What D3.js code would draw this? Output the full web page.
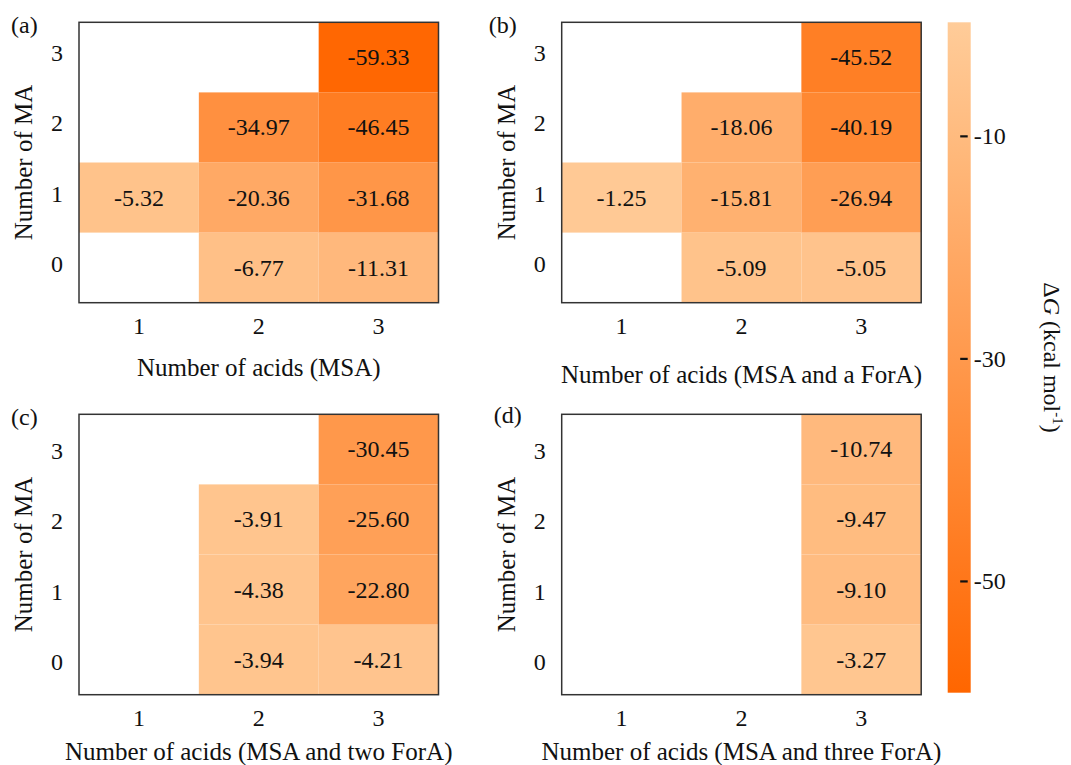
<!DOCTYPE html>
<html>
<head>
<meta charset="utf-8">
<script src="https://cdn.jsdelivr.net/npm/d3@7"></script>
<style>
  html, body { margin: 0; padding: 0; background: #fff; }
  svg text { font-family: "Liberation Serif", "Times New Roman", serif; fill: #111; }
</style>
</head>
<body>
<svg id="chart" width="1071" height="765"></svg>
<script>
// Acid counts (columns) and MA counts (rows)
const acidCounts = [1, 2, 3];
const maCounts = [0, 1, 2, 3];

// Gibbs free energies (kcal/mol); rows ordered MA = 0,1,2,3, columns acids = 1,2,3
const dG_MSA = [
  [null, -6.77, -11.31],
  [-5.32, -20.36, -31.68],
  [null, -34.97, -46.45],
  [null, null, -59.33]
];
const dG_MSA_oneForA = [
  [null, -5.09, -5.05],
  [-1.25, -15.81, -26.94],
  [null, -18.06, -40.19],
  [null, null, -45.52]
];
const dG_MSA_twoForA = [
  [null, -3.94, -4.21],
  [null, -4.38, -22.80],
  [null, -3.91, -25.60],
  [null, null, -30.45]
];
const dG_MSA_threeForA = [
  [null, null, -3.27],
  [null, null, -9.10],
  [null, null, -9.47],
  [null, null, -10.74]
];

const panelTags = ["(a)", "(b)", "(c)", "(d)"];
const xTitles = [
  "Number of acids (MSA)",
  "Number of acids (MSA and a ForA)",
  "Number of acids (MSA and two ForA)",
  "Number of acids (MSA and three ForA)"
];
const yTitle = "Number of MA";
const colorbarTicks = [-10, -30, -50];
const colorbarDomain = [-60, 0.25];

const panelData = [dG_MSA, dG_MSA_oneForA, dG_MSA_twoForA, dG_MSA_threeForA];

// ---- layout ----
const svg = d3.select("#chart");
const panelW = 359.5, panelH = 280.4;
const panelOrigins = [[79, 22.3], [561.7, 22.3], [79, 414.3], [561.7, 414.3]];
const xTitleOffsets = [73, 80, 65.5, 65.5];
const tagOffsets = [[-68, 11], [-73, 11], [-68, 11], [-68, 9]];

const color = d3.scaleLinear()
  .domain(colorbarDomain)
  .range(["#ff6600", "#ffcc99"])
  .interpolate(d3.interpolateRgb);

panelData.forEach((grid, p) => {
  const [ox, oy] = panelOrigins[p];
  const g = svg.append("g").attr("transform", `translate(${ox},${oy})`);

  const x = d3.scaleBand().domain(acidCounts).range([0, panelW]).padding(0);
  const y = d3.scaleBand().domain(maCounts.slice().reverse()).range([0, panelH]).padding(0);

  const cells = [];
  grid.forEach((row, ri) => row.forEach((v, ci) => {
    if (v !== null) cells.push({ ma: maCounts[ri], acid: acidCounts[ci], v });
  }));

  g.selectAll("rect.cell").data(cells).join("rect")
    .attr("class", "cell")
    .attr("x", d => x(d.acid))
    .attr("y", d => y(d.ma))
    .attr("width", x.bandwidth())
    .attr("height", y.bandwidth())
    .attr("fill", d => color(d.v));

  g.selectAll("text.val").data(cells).join("text")
    .attr("class", "val")
    .attr("x", d => x(d.acid) + x.bandwidth() / 2)
    .attr("y", d => y(d.ma) + y.bandwidth() / 2)
    .attr("text-anchor", "middle")
    .attr("dominant-baseline", "central")
    .attr("font-size", 24)
    .text(d => d.v.toFixed(2));

  // frame
  g.append("rect")
    .attr("width", panelW).attr("height", panelH)
    .attr("fill", "none").attr("stroke", "#333").attr("stroke-width", 1.5);

  // x tick labels
  g.selectAll("text.xt").data(acidCounts).join("text")
    .attr("class", "xt")
    .attr("x", d => x(d) + x.bandwidth() / 2)
    .attr("y", panelH + 31)
    .attr("text-anchor", "middle")
    .attr("font-size", 24)
    .text(d => d);

  // y tick labels
  g.selectAll("text.yt").data(maCounts).join("text")
    .attr("class", "yt")
    .attr("x", -22)
    .attr("y", d => y(d) + y.bandwidth() / 2 - (p < 2 ? 4 : -2))
    .attr("text-anchor", "middle")
    .attr("dominant-baseline", "central")
    .attr("font-size", 24)
    .text(d => d);

  // axis titles
  g.append("text")
    .attr("x", panelW / 2)
    .attr("y", panelH + xTitleOffsets[p])
    .attr("text-anchor", "middle")
    .attr("font-size", 25)
    .text(xTitles[p]);

  g.append("text")
    .attr("transform", `translate(-47,${panelH / 2}) rotate(-90)`)
    .attr("text-anchor", "middle")
    .attr("font-size", 25)
    .text(yTitle);

  // panel tag
  g.append("text")
    .attr("x", tagOffsets[p][0])
    .attr("y", tagOffsets[p][1])
    .attr("font-size", 24)
    .text(panelTags[p]);
});

// ---- colorbar ----
const cbX = 947.7, cbW = 23, cbTop = 22.3, cbBottom = 692.7;
const cbScale = d3.scaleLinear().domain([colorbarDomain[1], colorbarDomain[0]]).range([cbTop, cbBottom]);

const defs = svg.append("defs");
const grad = defs.append("linearGradient")
  .attr("id", "cbGrad").attr("x1", 0).attr("y1", 0).attr("x2", 0).attr("y2", 1);
d3.range(0, 11).forEach(i => {
  const t = i / 10;
  const v = cbScale.invert(cbTop + t * (cbBottom - cbTop));
  grad.append("stop").attr("offset", t).attr("stop-color", color(v));
});

svg.append("rect")
  .attr("x", cbX).attr("y", cbTop)
  .attr("width", cbW).attr("height", cbBottom - cbTop)
  .attr("fill", "url(#cbGrad)");

const cbT = svg.append("g");
cbT.selectAll("line").data(colorbarTicks).join("line")
  .attr("x1", cbX + 12.5).attr("x2", cbX + 20)
  .attr("y1", d => cbScale(d)).attr("y2", d => cbScale(d))
  .attr("stroke", "#111").attr("stroke-width", 2.2);
cbT.selectAll("text").data(colorbarTicks).join("text")
  .attr("x", cbX + cbW + 3)
  .attr("y", d => cbScale(d))
  .attr("dominant-baseline", "central")
  .attr("font-size", 24)
  .text(d => d);

// colorbar title: ΔG (kcal mol^-1)
const cbLabel = svg.append("text")
  .attr("transform", `translate(1044,${(cbTop + cbBottom) / 2}) rotate(90)`)
  .attr("text-anchor", "middle")
  .attr("font-size", 24);
cbLabel.append("tspan").text("Δ");
cbLabel.append("tspan").attr("font-style", "italic").text("G");
cbLabel.append("tspan").text(" (kcal mol");
cbLabel.append("tspan").attr("font-size", 15).attr("dy", -9).text("-1");
cbLabel.append("tspan").attr("dy", 9).text(")");
</script>
</body>
</html>
